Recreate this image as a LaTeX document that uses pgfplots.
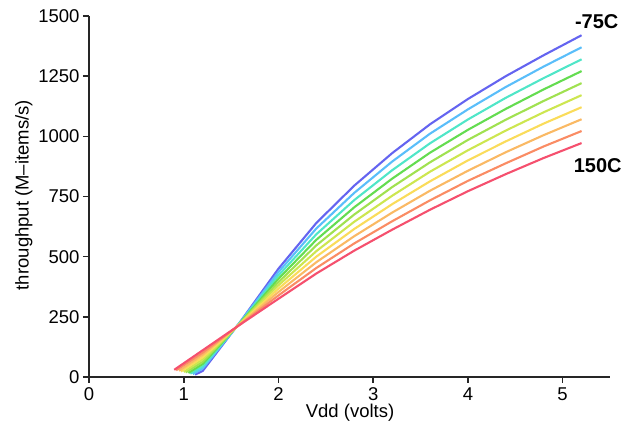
\documentclass[border=0pt]{standalone}
\usepackage{fontspec}
\setmainfont{Liberation Sans}
\usepackage{pgfplots}
\pgfplotsset{compat=1.18}

\definecolor{c1}{RGB}{100,100,240}
\definecolor{c2}{RGB}{90,190,250}
\definecolor{c3}{RGB}{80,230,200}
\definecolor{c4}{RGB}{100,220,80}
\definecolor{c5}{RGB}{160,225,80}
\definecolor{c6}{RGB}{205,230,80}
\definecolor{c7}{RGB}{250,220,90}
\definecolor{c8}{RGB}{250,185,100}
\definecolor{c9}{RGB}{250,140,100}
\definecolor{c10}{RGB}{245,80,110}

\begin{document}
\begin{tikzpicture}
\begin{axis}[
  at={(0,0)}, anchor=origin,
  scale only axis,
  width=521pt, height=361pt,
  xmin=0, xmax=5.5,
  ymin=0, ymax=1500,
  xtick={0,1,2,3,4,5},
  ytick={0,250,500,750,1000,1250,1500},
  axis lines*=left,
  axis line style={line width=1.6pt, black!85},
  tick align=outside,
  major tick length=6pt,
  tick style={line width=1.6pt, black!85},
  font=\fontsize{18.5}{21}\selectfont,
  /pgf/number format/assume math mode=true,
  /pgf/number format/1000 sep={},
  xticklabel style={yshift=-1pt},
  xlabel={Vdd (volts)},
  ylabel={throughput (M--items/s)},
  every axis x label/.style={at={(axis description cs:0.501,0)}, anchor=center, yshift=-36pt},
  every axis y label/.style={at={(axis description cs:-0.125,0.504)}, anchor=center, rotate=90},
  clip=false,
  every axis plot/.append style={line width=2.1pt, line join=round},
]
% one series per temperature, -75C (blue) to 150C (red)
\addplot[c1] coordinates {(1.12,10) (1.2,25) (1.6,231) (2.0,450) (2.4,640) (2.8,795) (3.2,930) (3.6,1050) (4.0,1155) (4.4,1250) (4.8,1337) (5.2,1420)};
\addplot[c2] coordinates {(1.096,12) (1.2,35) (1.6,230) (2.0,436) (2.4,617) (2.8,765) (3.2,895) (3.6,1011) (4.0,1112) (4.4,1205) (4.8,1290) (5.2,1370)};
\addplot[c3] coordinates {(1.07,14) (1.2,44) (1.6,228) (2.0,422) (2.4,593) (2.8,735) (3.2,859) (3.6,971) (4.0,1070) (4.4,1160) (4.8,1242) (5.2,1320)};
\addplot[c4] coordinates {(1.05,17) (1.2,54) (1.6,227) (2.0,408) (2.4,570) (2.8,705) (3.2,824) (3.6,932) (4.0,1027) (4.4,1114) (4.8,1195) (5.2,1271)};
\addplot[c5] coordinates {(1.02,19) (1.2,63) (1.6,226) (2.0,394) (2.4,547) (2.8,675) (3.2,789) (3.6,892) (4.0,985) (4.4,1069) (4.8,1147) (5.2,1221)};
\addplot[c6] coordinates {(1.0,21) (1.2,73) (1.6,224) (2.0,381) (2.4,523) (2.8,645) (3.2,753) (3.6,853) (4.0,942) (4.4,1024) (4.8,1100) (5.2,1171)};
\addplot[c7] coordinates {(0.97,23) (1.2,82) (1.6,223) (2.0,367) (2.4,500) (2.8,615) (3.2,718) (3.6,813) (4.0,900) (4.4,979) (4.8,1053) (5.2,1121)};
\addplot[c8] coordinates {(0.95,26) (1.2,92) (1.6,222) (2.0,353) (2.4,477) (2.8,585) (3.2,683) (3.6,774) (4.0,857) (4.4,934) (4.8,1005) (5.2,1071)};
\addplot[c9] coordinates {(0.92,28) (1.2,101) (1.6,220) (2.0,339) (2.4,453) (2.8,555) (3.2,647) (3.6,734) (4.0,815) (4.4,888) (4.8,958) (5.2,1022)};
\addplot[c10] coordinates {(0.9,30) (1.2,111) (1.6,219) (2.0,325) (2.4,430) (2.8,525) (3.2,612) (3.6,695) (4.0,772) (4.4,843) (4.8,910) (5.2,972)};
\node[font=\fontsize{20}{23}\selectfont\bfseries] at (axis cs:5.36,1475) {-75C};
\node[font=\fontsize{20}{23}\selectfont\bfseries] at (axis cs:5.37,877) {150C};
\end{axis}
\path[use as bounding box] (-89pt,-51pt) rectangle (536pt,377pt);
\end{tikzpicture}
\end{document}
